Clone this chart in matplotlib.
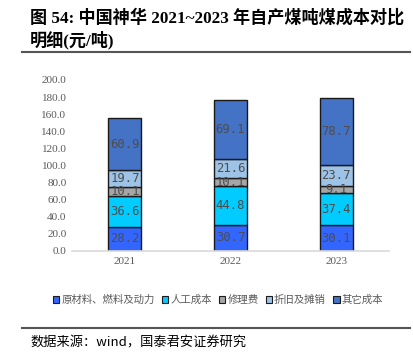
import matplotlib.pyplot as plt
import numpy as np
from matplotlib.lines import Line2D

years = ['2021', '2022', '2023']
series = ['原材料、燃料及动力', '人工成本', '修理费', '折旧及摊销', '其它成本']
raw = [28.2, 30.7, 30.1]
labor = [36.6, 44.8, 37.4]
repair = [10.1, 10.1, 9.1]
depre = [19.7, 21.6, 23.7]
other = [60.9, 69.1, 78.7]
colors = ['#3366FF', '#00CCFF', '#A6A6A6', '#9DC3E6', '#4472C4']

cjk = ['Noto Sans CJK SC', 'DejaVu Sans']
serif_cjk = ['Liberation Serif', 'Noto Sans CJK SC']
fig = plt.figure(figsize=(4.14, 3.57), dpi=100)

# title
fig.text(30 / 414, 1 - 18 / 357, '图 54: 中国神华 2021~2023 年自产煤吨煤成本对比',
         family=serif_cjk, weight='bold', fontsize=12.3, va='center', ha='left')
fig.text(30 / 414, 1 - 40 / 357, '明细(元/吨)',
         family=serif_cjk, weight='bold', fontsize=12.3, va='center', ha='left')
fig.add_artist(Line2D([22 / 414, 410 / 414], [1 - 52 / 357] * 2, color='#555555', lw=1.5))
fig.add_artist(Line2D([22 / 414, 410 / 414], [1 - 328 / 357] * 2, color='#555555', lw=1.5))
fig.text(30 / 414, 1 - 343 / 357, '数据来源：wind，国泰君安证券研究', family=cjk,
         fontsize=9.5, va='center', ha='left')

ax = fig.add_axes([72 / 414, 1 - 251 / 357, 317 / 414, 171 / 357])
x = np.arange(len(years))
bottom = np.zeros(3)
for name, vals, c in zip(series, [raw, labor, repair, depre, other], colors):
    ax.bar(x, vals, 0.31, bottom=bottom, color=c, edgecolor='#1a1a1a', lw=1, label=name)
    for xi, b, v in zip(x, bottom, vals):
        ax.text(xi, b + v / 2, f'{v:.1f}', ha='center', va='center', family='DejaVu Sans Mono',
                fontsize=8.8, color='#4d4d4d')
    bottom += np.array(vals)

ax.set_xlim(-0.5, 2.5)
ax.set_ylim(0, 200)
ax.set_yticks(np.arange(0, 201, 20))
ax.set_yticklabels([f'{v:.1f}' for v in np.arange(0, 201, 20)])
ax.set_xticks(x)
ax.set_xticklabels(years)
for lab in ax.get_xticklabels() + ax.get_yticklabels():
    lab.set_family('Liberation Serif')
    lab.set_fontsize(8)
    lab.set_color('#595959')
for s in ['top', 'right', 'left']:
    ax.spines[s].set_visible(False)
ax.spines['bottom'].set_color('#d9d9d9')
ax.spines['bottom'].set_linewidth(1.2)
ax.tick_params(length=0, pad=4)

handles = [plt.Rectangle((0, 0), 1, 1, facecolor=c, edgecolor='#1a1a1a', lw=0.8) for c in colors]
leg = fig.legend(handles, series, loc='center', bbox_to_anchor=(218 / 414, 1 - 300 / 357), ncol=5,
                 frameon=False, prop={'family': cjk, 'size': 7.5}, handlelength=0.6,
                 handleheight=0.6, handletextpad=0.2, columnspacing=0.7)
for t in leg.get_texts():
    t.set_color('#595959')

plt.savefig('out.png', dpi=100)
plt.close()
